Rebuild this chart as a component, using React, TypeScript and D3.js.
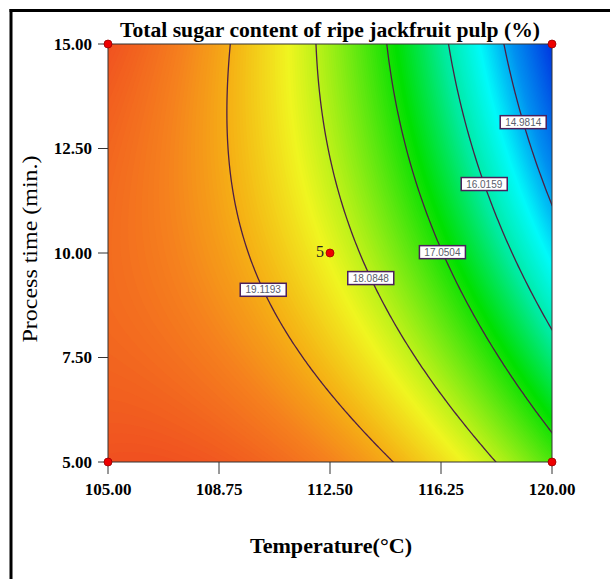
import React, { useMemo } from "react";
import * as d3 from "d3";

// fitted quadratic response surface, coded units (A = temperature, B = time)
const modelTerms = ["Intercept", "A", "B", "AB", "A^2", "B^2"];
const modelCoefs = [18.4, -2.25, -0.846, -0.84, -0.8, 0.339];

const tempDomain = [105, 120];
const timeDomain = [5, 15];
const tempTicks = [105, 108.75, 112.5, 116.25, 120];
const timeTicks = [5, 7.5, 10, 12.5, 15];

const contourLevels = [19.1193, 18.0848, 17.0504, 16.0159, 14.9814];
const labelTimes = [9.12, 9.4, 10.02, 11.65, 13.13];

const designTemp = [105, 105, 120, 120, 112.5];
const designTime = [5, 15, 5, 15, 10];
const designCount = [1, 1, 1, 1, 5];

// colour ramp (Design-Expert style)
const rampValues = [14.0, 14.8, 15.45, 16.1, 16.9, 17.5, 18.0, 18.45, 19.1, 19.6, 20.2];
const rampColors = ["#0035e0", "#0090f0", "#00fafa", "#00eaa0", "#00e000", "#60e810", "#b0f018", "#f0f520", "#f5b015", "#f5801e", "#f05020"];

const W = 610;
const H = 579;
const plot = { left: 108, top: 44, right: 552, bottom: 462 };

function predict(T: number, t: number) {
  const a = (T - 112.5) / 7.5;
  const b = (t - 10) / 5;
  const [b0, b1, b2, b12, b11, b22] = modelCoefs;
  return b0 + b1 * a + b2 * b + b12 * a * b + b11 * a * a + b22 * b * b;
}

export default function App() {
  const x = d3.scaleLinear().domain(tempDomain).range([plot.left, plot.right]);
  const y = d3.scaleLinear().domain(timeDomain).range([plot.bottom, plot.top]);
  const color = d3.scaleLinear<string>().domain(rampValues).range(rampColors).clamp(true);

  const nx = 180;
  const ny = 170;

  const { bands, lines, path } = useMemo(() => {
    const values = new Array(nx * ny);
    for (let j = 0; j < ny; j++) {
      const t = timeDomain[1] - ((timeDomain[1] - timeDomain[0]) * j) / (ny - 1);
      for (let i = 0; i < nx; i++) {
        const T = tempDomain[0] + ((tempDomain[1] - tempDomain[0]) * i) / (nx - 1);
        values[j * nx + i] = predict(T, t);
      }
    }
    const gx = (g: number) => x(tempDomain[0] + ((tempDomain[1] - tempDomain[0]) * (g - 0.5)) / (nx - 1));
    const gy = (g: number) => y(timeDomain[1] - ((timeDomain[1] - timeDomain[0]) * (g - 0.5)) / (ny - 1));
    const path = d3.geoPath(
      d3.geoTransform({
        point(px: number, py: number) {
          this.stream.point(gx(px), gy(py));
        },
      })
    );
    const bands = d3.contours().size([nx, ny]).thresholds(d3.range(13.9, 20.4, 0.03))(values);
    const lines = d3.contours().size([nx, ny]).thresholds(contourLevels)(values);
    return { bands, lines, path };
  }, []);

  // place each label on its contour line
  const labels = contourLevels.map((lv, k) => {
    const t = labelTimes[k];
    let lo = 106, hi = 120;
    for (let it = 0; it < 50; it++) {
      const mid = (lo + hi) / 2;
      if (predict(mid, t) > lv) lo = mid;
      else hi = mid;
    }
    return { lv, T: (lo + hi) / 2, t };
  });

  const serif = "'Liberation Serif', 'Times New Roman', serif";

  return (
    <svg width={W} height={H} style={{ position: "absolute", left: 0, top: 0, background: "#fff" }}>
      <defs>
        <clipPath id="plotClip">
          <rect x={plot.left} y={plot.top} width={plot.right - plot.left} height={plot.bottom - plot.top} />
        </clipPath>
      </defs>

      {/* frame */}
      <line x1={11} y1={9} x2={11} y2={H} stroke="#000" strokeWidth={3} />
      <line x1={9.5} y1={10.5} x2={W} y2={10.5} stroke="#000" strokeWidth={3} />

      <g clipPath="url(#plotClip)">
        <rect x={plot.left} y={plot.top} width={plot.right - plot.left} height={plot.bottom - plot.top} fill={color(13.9)} />
        {bands.map((b, i) => (
          <path key={i} d={path(b) || ""} fill={color(b.value + 0.015)} />
        ))}
        {lines.map((l, i) => (
          <path key={i} d={path(l) || ""} fill="none" stroke="#4d1f45" strokeWidth={1.3} />
        ))}
      </g>

      <rect x={plot.left} y={plot.top} width={plot.right - plot.left} height={plot.bottom - plot.top} fill="none" stroke="#333" strokeWidth={1} />

      {labels.map((d, i) => (
        <g key={i} transform={`translate(${x(d.T)},${y(d.t)})`}>
          <rect x={-23} y={-6.5} width={46} height={13} fill="#fff" stroke="#4b1f5c" strokeWidth={1.5} />
          <text textAnchor="middle" dy="0.36em" fontSize={10} fontFamily="Arial, 'Liberation Sans', sans-serif" fill="#5a606c">
            {d.lv.toFixed(4)}
          </text>
        </g>
      ))}

      {/* y axis */}
      {timeTicks.map((v) => (
        <g key={v}>
          <line x1={plot.left - 10} x2={plot.left} y1={y(v)} y2={y(v)} stroke="#333" />
          <text x={92} y={y(v)} dy="0.35em" textAnchor="end" fontFamily={serif} fontWeight="bold" fontSize={17}>
            {v.toFixed(2)}
          </text>
        </g>
      ))}

      {/* x axis */}
      {tempTicks.map((v) => (
        <g key={v}>
          <line x1={x(v)} x2={x(v)} y1={plot.bottom} y2={plot.bottom + 12} stroke="#333" />
          <text x={x(v)} y={495} textAnchor="middle" fontFamily={serif} fontWeight="bold" fontSize={17}>
            {v.toFixed(2)}
          </text>
        </g>
      ))}

      {/* design points */}
      {designTemp.map((T, i) => (
        <g key={i}>
          <circle cx={x(T)} cy={y(designTime[i])} r={4} fill="#ee0000" stroke="#900" strokeWidth={0.8} />
          {designCount[i] > 1 && (
            <text x={x(T) - 6} y={y(designTime[i]) + 4} textAnchor="end" fontFamily={serif} fontSize={16} fill="#222">
              {designCount[i]}
            </text>
          )}
        </g>
      ))}

      <text x={330} y={37} textAnchor="middle" fontFamily={serif} fontWeight="bold" fontSize={20} textLength={420} lengthAdjust="spacingAndGlyphs">
        Total sugar content of ripe jackfruit pulp (%)
      </text>
      <text x={331} y={553} textAnchor="middle" fontFamily={serif} fontWeight="bold" fontSize={20} textLength={162} lengthAdjust="spacingAndGlyphs">
        Temperature(°C)
      </text>
      <text transform="translate(37,249) rotate(-90)" textAnchor="middle" fontFamily={serif} fontSize={20} textLength={187} lengthAdjust="spacingAndGlyphs">
        Process time (min.)
      </text>
    </svg>
  );
}
